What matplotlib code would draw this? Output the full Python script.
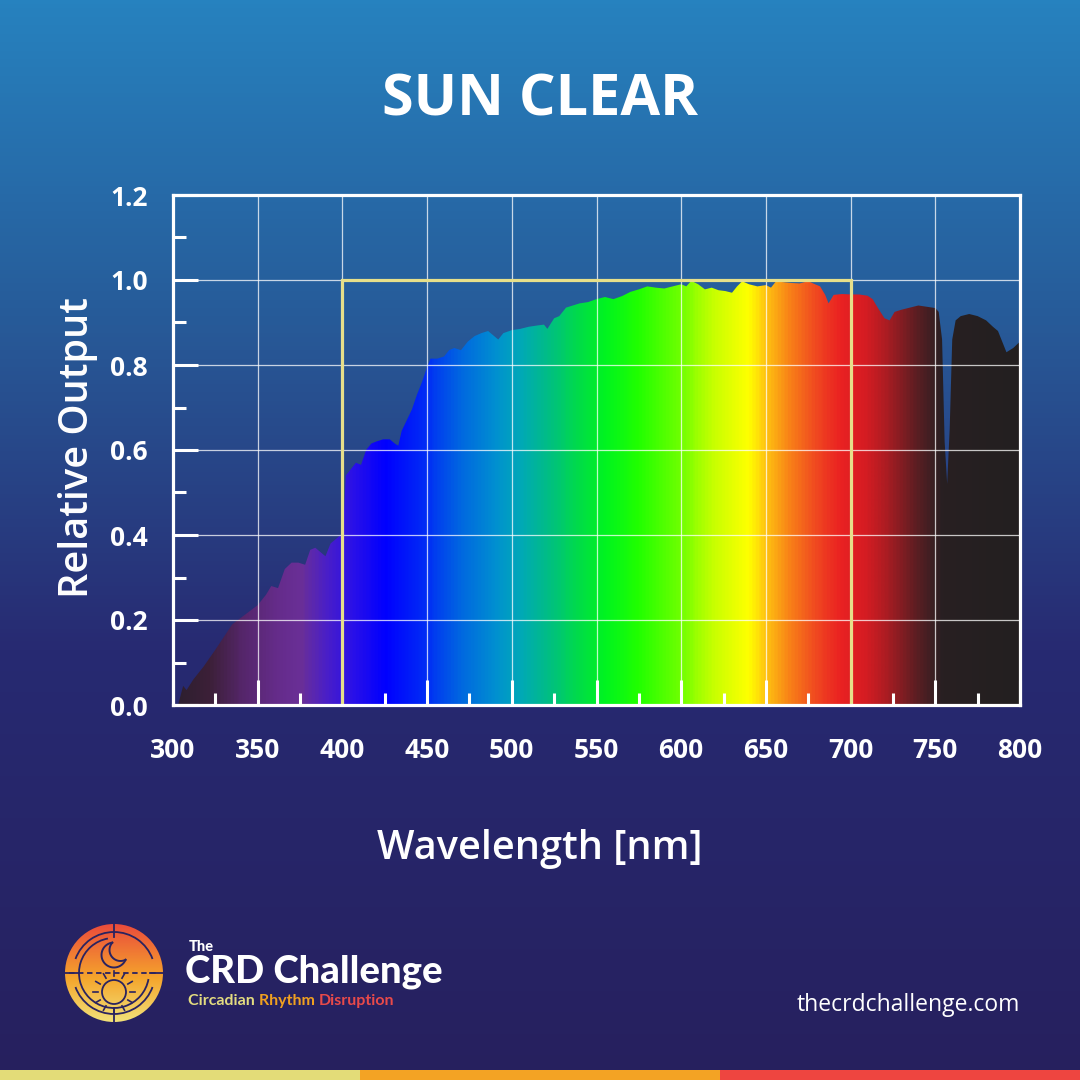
import numpy as np
import matplotlib
matplotlib.use("Agg")
import matplotlib.pyplot as plt
from matplotlib.colors import LinearSegmentedColormap
from matplotlib.patches import Polygon, Circle, Arc, Rectangle

# ---- data ----
wavelength = [303, 306, 308, 312, 318, 325, 330, 335, 340, 345, 350, 355, 358, 362, 366,
              370, 374, 378, 381, 384, 387, 390, 393, 396, 399, 400.5, 402, 405, 408, 411,
              414, 417, 420, 424, 428, 431, 433, 435, 438, 441, 444, 447, 450, 452, 456,
              460, 463, 466, 470, 474, 478, 482, 486, 489, 492, 495, 500, 505, 510, 515,
              519, 521, 525, 528, 532, 536, 540, 545, 550, 555, 560, 565, 570, 575, 580,
              585, 590, 595, 600, 603, 606, 610, 614, 618, 622, 626, 630, 633, 636, 640,
              645, 650, 653, 656, 660, 665, 670, 675, 679, 682, 685, 687, 690, 695, 700,
              705, 710, 713, 716, 720, 723, 726, 730, 735, 740, 745, 750, 752, 754, 755.5,
              757, 758.5, 760, 762, 765, 770, 775, 780, 784, 787, 789, 792, 796, 800]
output = [0.0, 0.045, 0.035, 0.06, 0.09, 0.13, 0.16, 0.19, 0.205, 0.22, 0.235, 0.26, 0.28, 0.275, 0.32,
          0.335, 0.335, 0.33, 0.365, 0.37, 0.36, 0.35, 0.38, 0.39, 0.40, 0.42, 0.54, 0.555, 0.57, 0.565,
          0.60, 0.615, 0.62, 0.625, 0.625, 0.615, 0.61, 0.645, 0.67, 0.695, 0.73, 0.76, 0.795, 0.815, 0.815,
          0.82, 0.835, 0.84, 0.835, 0.855, 0.868, 0.875, 0.88, 0.87, 0.86, 0.875, 0.882, 0.885, 0.89, 0.893,
          0.895, 0.885, 0.91, 0.915, 0.935, 0.94, 0.945, 0.948, 0.955, 0.96, 0.955, 0.962, 0.972, 0.978, 0.985,
          0.982, 0.98, 0.985, 0.99, 0.985, 0.998, 0.99, 0.978, 0.982, 0.976, 0.974, 0.97, 0.985, 0.997, 0.99,
          0.985, 0.988, 0.982, 0.997, 0.995, 0.993, 0.992, 0.997, 0.99, 0.985, 0.965, 0.945, 0.965, 0.967, 0.966,
          0.966, 0.963, 0.955, 0.935, 0.91, 0.905, 0.925, 0.93, 0.935, 0.94, 0.937, 0.934, 0.925, 0.86, 0.62,
          0.52, 0.65, 0.86, 0.905, 0.915, 0.92, 0.915, 0.905, 0.89, 0.88, 0.86, 0.83, 0.84, 0.855]

visible_band = [400, 700]
visible_level = 1.0

x_ticks = [300, 350, 400, 450, 500, 550, 600, 650, 700, 750, 800]
y_ticks = [0.0, 0.2, 0.4, 0.6, 0.8, 1.0, 1.2]

title = "SUN CLEAR"
x_label = "Wavelength [nm]"
y_label = "Relative Output"

# colour of the spectrum by wavelength
spec_stops = [(300, "#2b1f2e"), (320, "#3c2038"), (340, "#55266a"), (360, "#652c8a"),
              (375, "#6a2f98"), (390, "#4a1fc8"), (405, "#2a10e8"), (425, "#0000ff"),
              (450, "#0030f4"), (470, "#0068e0"), (490, "#0090d0"), (505, "#00a8b8"),
              (520, "#00bc88"), (540, "#00dc48"), (555, "#00f420"), (575, "#20ff00"),
              (600, "#70ff00"), (620, "#c8ff00"), (640, "#ffff00"), (650, "#ffc810"),
              (665, "#f88018"), (680, "#f04820"), (695, "#ea2222"), (710, "#d41c22"),
              (725, "#a01c22"), (740, "#5c1e22"), (755, "#282022"), (800, "#231f20")]
spec_cmap = LinearSegmentedColormap.from_list(
    "spec", [((w - 300) / 500, c) for w, c in spec_stops])

bg_cmap = LinearSegmentedColormap.from_list(
    "bg", [(0, "#2682bf"), (0.3, "#275a98"), (0.6, "#272a72"), (1, "#26205e")])

W = 1080


def fx(px):
    return px / W


def fy(py):
    return 1 - py / W


fig = plt.figure(figsize=(10.8, 10.8), dpi=100)

# background gradient
bg = fig.add_axes([0, 0, 1, 1], zorder=-10)
bg.imshow(np.linspace(0, 1, 256).reshape(-1, 1), cmap=bg_cmap, aspect="auto",
          extent=[0, 1, 0, 1])
bg.set_axis_off()

# bottom colour bar
for i, c in enumerate(["#e3dc78", "#f3a324", "#ee4540"]):
    bg.add_patch(Rectangle((i / 3, 0), 1 / 3, 10 / W, transform=bg.transAxes,
                           facecolor=c, edgecolor="none"))

# main chart
ax = fig.add_axes([fx(173), fy(705), fx(1020 - 173), fx(705 - 195)])
ax.set_facecolor("none")
ax.set_xlim(300, 800)
ax.set_ylim(0, 1.2)

im = ax.imshow(np.linspace(0, 1, 500).reshape(1, -1), cmap=spec_cmap, aspect="auto",
               extent=[300, 800, 0, 1.2], zorder=1)
verts = np.column_stack([wavelength + [800, 303], output + [0, 0]])
poly = Polygon(verts, closed=True, facecolor="none", edgecolor="none",
               transform=ax.transData)
ax.add_patch(poly)
im.set_clip_path(poly)

# visible light box
ax.plot([visible_band[0], visible_band[0], visible_band[1], visible_band[1]],
        [0, visible_level, visible_level, 0], color="#e6df8a", lw=2.3, zorder=4,
        solid_joinstyle="miter")

ax.set_axisbelow(False)
ax.grid(True, color="white", lw=0.9, alpha=0.75)
ax.set_xticks(x_ticks)
ax.set_yticks(y_ticks)
ax.set_xticks(np.arange(325, 800, 50), minor=True)
ax.set_yticks(np.arange(0.1, 1.2, 0.2), minor=True)
ax.set_yticklabels([f"{v:.1f}" for v in y_ticks])
ax.tick_params(which="major", direction="in", length=18, width=2.2, color="white",
               labelcolor="white", labelsize=19)
ax.tick_params(which="minor", direction="in", length=9, width=2.2, color="white")
ax.tick_params(axis="y", which="major", pad=18)
ax.tick_params(axis="x", which="major", pad=23)
for lab in ax.get_xticklabels() + ax.get_yticklabels():
    lab.set_fontfamily("Open Sans")
    lab.set_fontweight("bold")
for s in ax.spines.values():
    s.set_color("white")
    s.set_linewidth(2.3)
    s.set_zorder(5)

# titles
fig.text(0.5, fy(101), title, ha="center", va="center", color="white",
         fontsize=41.5, fontweight="bold", family="Open Sans")
fig.text(0.5, fy(849), x_label, ha="center", va="center", color="white",
         fontsize=28.5, fontweight="semibold", family="Open Sans")
fig.text(fx(78), fy(448), y_label, ha="center", va="center", color="white",
         rotation=90, fontsize=28.5, fontweight="semibold", family="Open Sans")

# logo
lg = fig.add_axes([fx(64), fy(1023), fx(100), fx(100)])
lg.set_xlim(-1, 1)
lg.set_ylim(-1, 1)
lg.set_aspect("equal")
lg.set_axis_off()
logo_cmap = LinearSegmentedColormap.from_list(
    "logo", [(0, "#f2e27a"), (0.45, "#f5a52c"), (1, "#ea4a3c")])
gim = lg.imshow(np.linspace(0, 1, 200).reshape(-1, 1), cmap=logo_cmap, origin="lower",
                extent=[-1, 1, -1, 1], aspect="auto")
disc = Circle((0, 0), 0.98, transform=lg.transData, facecolor="none", edgecolor="none")
lg.add_patch(disc)
gim.set_clip_path(disc)
navy = "#2a2360"
lg.add_patch(Arc((0, 0), 1.64, 1.64, theta1=20, theta2=160, color=navy, lw=1.3))
lg.add_patch(Arc((0, 0), 1.64, 1.64, theta1=200, theta2=340, color=navy, lw=1.3))
lg.add_patch(Arc((0, 0), 1.4, 1.4, theta1=100, theta2=350, color=navy, lw=1.3))
for a in [(0, 0.72, 0, 0.98), (0, -0.72, 0, -0.98), (0.72, 0, 0.98, 0), (-0.72, 0, -0.98, 0)]:
    lg.plot([a[0], a[2]], [a[1], a[3]], color=navy, lw=1.3)
lg.plot([-0.9, 0.9], [0, 0], color=navy, lw=1.3, ls=(0, (3, 2)))

# crescent moon outline
t = np.linspace(0, 2 * np.pi, 400)
oc, orad = np.array([0.0, 0.36]), 0.25
ic, irad = np.array([0.13, 0.46]), 0.22
ox, oy = oc[0] + orad * np.cos(t), oc[1] + orad * np.sin(t)
ix, iy = ic[0] + irad * np.cos(t), ic[1] + irad * np.sin(t)
keep_o = np.hypot(ox - ic[0], oy - ic[1]) > irad
keep_i = np.hypot(ix - oc[0], iy - oc[1]) < orad
lg.plot(np.where(keep_o, ox, np.nan), np.where(keep_o, oy, np.nan), color=navy, lw=1.4)
lg.plot(np.where(keep_i, ix, np.nan), np.where(keep_i, iy, np.nan), color=navy, lw=1.4)

# sun
lg.add_patch(Circle((0, -0.38), 0.24, facecolor="none", edgecolor=navy, lw=1.3))
for ang in np.linspace(0, 2 * np.pi, 12, endpoint=False):
    lg.plot([0.32 * np.cos(ang), 0.42 * np.cos(ang)],
            [-0.38 + 0.32 * np.sin(ang), -0.38 + 0.42 * np.sin(ang)], color=navy, lw=1.2)

fig.text(fx(189), fy(947), "The", ha="left", va="center", color="white",
         fontsize=10.5, fontweight="black", family="Lato")
fig.text(fx(185), fy(972), "CRD Challenge", ha="left", va="center", color="white",
         fontsize=27.5, fontweight="black", family="Lato")
t1 = fig.text(fx(188), fy(1001), "Circadian ", ha="left", va="center", color="#e3dc80",
              fontsize=11.5, fontweight="bold", family="Lato")
fig.canvas.draw()
r = fig.canvas.get_renderer()
bb = t1.get_window_extent(r)
t2 = fig.text(bb.x1 / W, fy(1001), "Rhythm ", ha="left", va="center", color="#f0a020",
              fontsize=11.5, fontweight="bold", family="Lato")
bb2 = t2.get_window_extent(r)
fig.text(bb2.x1 / W, fy(1001), "Disruption", ha="left", va="center", color="#e84a4a",
         fontsize=11.5, fontweight="bold", family="Lato")

fig.text(fx(1020), fy(1005), "thecrdchallenge.com", ha="right", va="center",
         color="white", fontsize=16.5, family="Open Sans")

fig.savefig("out.png", dpi=100)
